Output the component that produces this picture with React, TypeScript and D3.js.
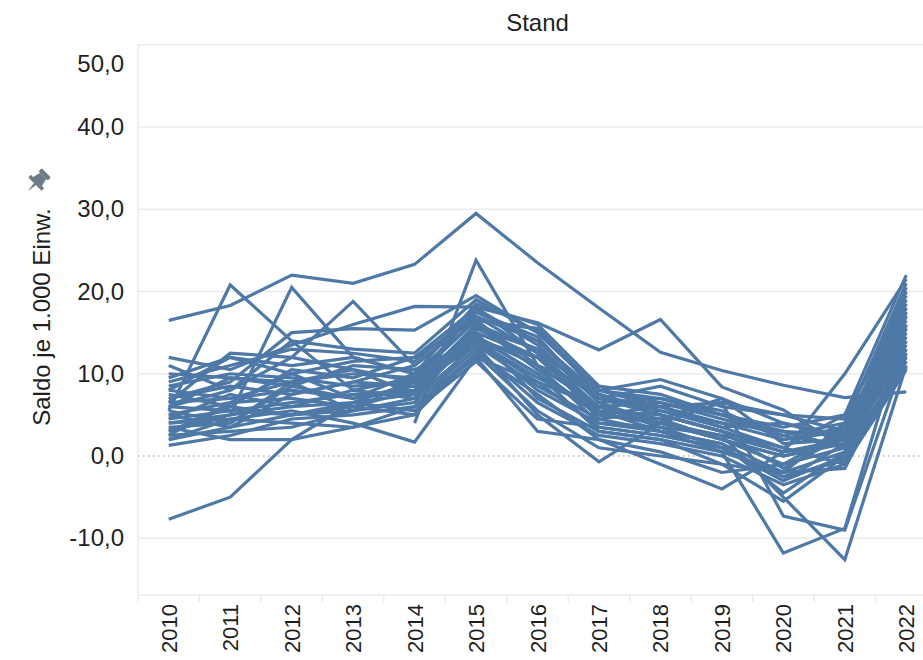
import * as d3 from "d3";

// Saldo je 1.000 Einwohner, one line per Kreis, 2010-2022
const YEARS = ["2010", "2011", "2012", "2013", "2014", "2015", "2016", "2017", "2018", "2019", "2020", "2021", "2022"];
const Y_TICKS = [-10, 0, 10, 20, 30, 40, 50];

type Row = (number | null)[];

const S01: Row = [16.5, 18.3, 22.0, 21.0, 23.3, 29.5, 23.5, 18.0, 12.6, 10.4, 8.6, 7.1, 7.8];
const S02: Row = [12.0, 10.5, 13.5, 16.0, 18.2, 18.1, 16.2, 12.9, 16.6, 8.4, 5.6, 1.0, 15.5];
const S03: Row = [-7.7, -5.0, 2.0, 6.5, 9.0, 14.0, 8.0, 4.0, 3.0, 1.5, -2.0, 0.5, 12.0];
const S04: Row = [5.5, 20.8, 14.0, 8.0, 9.5, 15.0, 12.0, 5.5, 5.0, 3.0, 0.5, 2.0, 14.5];
const S05: Row = [3.0, 5.0, 20.5, 12.0, 10.0, 16.5, 11.0, 6.0, 4.5, 2.0, -1.0, 1.0, 13.0];
const S06: Row = [6.0, 8.0, 12.0, 18.8, 11.0, 17.0, 14.0, 7.0, 6.0, 4.0, 2.0, 3.0, 18.0];
const S07: Row = [null, null, null, null, 4.0, 23.8, 11.0, 8.0, 7.0, 5.0, 3.0, 2.5, 17.0];
const S08: Row = [4.0, 4.5, 5.5, 4.0, 1.7, 12.0, 9.0, 3.5, 2.5, 1.0, -3.0, 0.0, 11.5];
const S09: Row = [7.0, 9.0, 15.0, 15.5, 15.3, 19.5, 15.0, 8.0, 9.3, 7.0, 4.0, 2.0, 20.0];
const S10: Row = [2.0, 3.5, 5.0, 6.5, 7.5, 14.5, 10.0, 5.0, 4.0, 2.5, -5.0, -12.6, 11.0];
const S11: Row = [5.0, 6.5, 7.0, 6.0, 8.0, 16.0, 13.0, 5.5, 3.0, 0.5, -11.8, -8.8, 16.0];
const S12: Row = [8.0, 7.0, 9.0, 10.0, 9.5, 17.5, 14.5, 6.5, 4.0, 6.5, -7.3, -9.0, 12.5];
const S13: Row = [3.5, 4.0, 8.5, 7.0, 8.5, 13.5, 5.0, -0.7, 4.0, 2.0, 0.0, 1.5, 14.0];
const S14: Row = [1.3, 2.5, 4.5, 5.0, 6.0, 12.0, 3.0, 2.0, -1.0, -4.0, 0.5, 10.0, 21.5];
const S15: Row = [9.5, 12.0, 11.0, 12.0, 10.0, 18.5, 16.0, 8.5, 7.5, 5.0, 3.5, 5.0, 22.0];
const S16: Row = [6.5, 12.5, 12.0, 10.5, 9.0, 15.5, 13.0, 7.0, 8.5, 6.0, 5.0, 3.0, 19.0];
const S17: Row = [4.5, 7.5, 6.0, 8.0, 7.0, 15.0, 7.0, 3.0, 2.0, -1.0, -2.0, 4.0, 16.5];
const S18: Row = [5.0, 3.5, 7.5, 9.0, 11.0, 17.0, 12.5, 4.5, 5.5, 3.5, 1.0, -1.0, 17.5];
const S19: Row = [10.0, 9.5, 8.5, 11.0, 10.5, 14.0, 9.5, 6.0, 6.5, 4.5, 2.5, 1.0, 13.5];
const S20: Row = [7.5, 6.0, 10.5, 9.5, 12.0, 16.5, 15.5, 7.5, 5.0, 3.0, -1.5, 2.5, 15.0];
const S21: Row = [2.5, 3.0, 3.5, 5.5, 6.5, 13.0, 6.5, 2.5, 1.5, 0.0, -3.5, -1.0, 10.5];
const S22: Row = [6.0, 5.5, 6.5, 7.5, 8.0, 14.5, 11.0, 4.0, 3.5, 2.5, 0.5, 1.5, 12.5];
const S23: Row = [8.5, 10.0, 9.5, 8.5, 9.0, 18.0, 13.5, 6.5, 7.0, 5.5, 2.0, 3.5, 18.5];
const S24: Row = [4.0, 5.0, 6.0, 6.5, 5.5, 11.5, 4.5, 3.5, 2.5, 1.0, -2.5, -0.5, 11.5];
const S25: Row = [7.0, 8.5, 7.5, 9.0, 8.5, 16.0, 10.5, 5.0, 4.5, 7.0, 1.5, 2.0, 20.5];
const S26: Row = [3.0, 6.0, 5.0, 5.5, 7.0, 13.5, 8.5, 4.5, 3.0, 1.5, -4.5, 0.5, 14.0];
const S27: Row = [5.5, 4.0, 9.0, 10.5, 7.5, 15.5, 12.0, 5.0, 6.0, 3.5, 4.0, 2.5, 16.0];
const S28: Row = [9.0, 11.0, 13.0, 12.5, 11.5, 17.5, 14.0, 7.5, 5.5, 4.0, 3.0, 1.0, 17.0];
const S29: Row = [2.0, 4.5, 4.0, 3.5, 6.0, 12.5, 7.5, 2.0, 0.5, -2.0, -1.0, 3.0, 12.0];
const S30: Row = [6.5, 7.0, 8.0, 7.0, 10.0, 14.0, 9.0, 6.0, 4.0, 2.0, 0.0, 2.0, 15.5];
const S31: Row = [11.0, 8.0, 14.0, 13.0, 12.5, 19.0, 15.0, 8.0, 6.0, 6.5, 5.0, 4.5, 19.5];
const S32: Row = [4.5, 5.5, 5.0, 6.0, 5.0, 14.5, 10.0, 3.0, 2.0, 0.5, -2.0, -1.5, 13.0];
const S33: Row = [3.5, 2.0, 2.0, 3.5, 5.0, 12.5, 5.5, 1.0, 0.0, -1.0, -5.5, 0.0, 10.8];
const S34: Row = [8.0, 12.0, 10.0, 7.0, 8.0, 14.0, 12.0, 7.0, 5.0, 3.0, 1.0, 5.0, 18.0];
const S35: Row = [6.0, 9.5, 9.0, 5.5, 9.5, 16.5, 15.5, 8.0, 6.5, 5.0, 2.5, 4.0, 21.0];
const S36: Row = [2.5, 6.5, 10.0, 11.5, 12.0, 18.0, 12.5, 6.0, 3.5, 1.0, -3.0, 1.5, 17.5];

const SERIES: Row[] = [
  S01, S02, S03, S04, S05, S06, S07, S08, S09, S10, S11, S12, S13, S14, S15, S16, S17, S18,
  S19, S20, S21, S22, S23, S24, S25, S26, S27, S28, S29, S30, S31, S32, S33, S34, S35, S36,
];

const W = 923;
const H = 660;
const LEFT = 138;
const RIGHT = 937; // plot runs past the window edge, as in the original crop
const TOP = 44;
const BOTTOM = 595;

const FONT = "'Liberation Sans', Arial, sans-serif";
const LINE_COLOR = "#4e79a7";
const GRID = "#ebebeb";
const fmt = (v: number) => d3.format(".1f")(v).replace(".", ",").replace("\u2212", "-");

export default function App() {
  const x = d3.scaleBand<string>().domain(YEARS).range([LEFT, RIGHT]);
  const y = d3.scaleLinear().domain([-16.9, 50.1]).range([BOTTOM, TOP]);
  const cx = (yr: string) => (x(yr) ?? 0) + x.bandwidth() / 2;

  const line = d3
    .line<number | null>()
    .defined((d) => d != null)
    .x((_, i) => cx(YEARS[i]))
    .y((d) => y(d as number));

  return (
    <svg
      width={W}
      height={H}
      style={{ position: "absolute", left: 0, top: 0, background: "#fff" }}
      fontFamily={FONT}
    >
      <defs>
        <clipPath id="plot">
          <rect x={LEFT} y={TOP} width={W - LEFT} height={BOTTOM - TOP} />
        </clipPath>
      </defs>

      {/* title */}
      <text x={(LEFT + RIGHT) / 2} y={31} textAnchor="middle" fontSize={24} fill="#1f1f1f">
        Stand
      </text>

      {/* gridlines */}
      {Y_TICKS.filter((t) => t !== 0).map((t) => (
        <line key={t} x1={LEFT} x2={W} y1={y(t)} y2={y(t)} stroke={GRID} strokeWidth={1.5} />
      ))}
      <line x1={LEFT} x2={W} y1={y(0)} y2={y(0)} stroke="#b4b4b4" strokeWidth={1.3} strokeDasharray="1.5,3.5" />

      {/* axis frame */}
      <line x1={LEFT} x2={LEFT} y1={TOP} y2={BOTTOM + 7} stroke={GRID} strokeWidth={1.5} />
      <line x1={LEFT} x2={W} y1={BOTTOM} y2={BOTTOM} stroke={GRID} strokeWidth={1.5} />
      {YEARS.map((yr) => (
        <line
          key={yr}
          x1={(x(yr) ?? 0) + x.bandwidth()}
          x2={(x(yr) ?? 0) + x.bandwidth()}
          y1={BOTTOM}
          y2={BOTTOM + 7}
          stroke={GRID}
          strokeWidth={1.5}
        />
      ))}

      {/* y tick labels */}
      {Y_TICKS.map((t) => (
        <text
          key={t}
          x={124}
          y={t === 50 ? y(t) + 27 : y(t) + 8}
          textAnchor="end"
          fontSize={24}
          fill="#1f1f1f"
        >
          {fmt(t)}
        </text>
      ))}

      {/* x tick labels */}
      {YEARS.map((yr) => (
        <text
          key={yr}
          transform={`translate(${cx(yr) + 8},${BOTTOM + 9}) rotate(-90)`}
          textAnchor="end"
          fontSize={22}
          fill="#1f1f1f"
        >
          {yr}
        </text>
      ))}

      {/* y axis title + pin */}
      <text transform="translate(50,317) rotate(-90)" textAnchor="middle" fontSize={24} fill="#1f1f1f">
        Saldo je 1.000 Einw.
      </text>
      <g transform="translate(37,182) rotate(45) scale(1.45)" fill="#6f7b88">
        <rect x={-4.5} y={-9} width={9} height={3} rx={0.8} />
        <path d="M-3,-6 L3,-6 L4.5,0 L-4.5,0 Z" />
        <rect x={-6.5} y={-0.5} width={13} height={2.5} />
        <path d="M-1,2 L1,2 L0,9 Z" />
      </g>

      {/* lines */}
      <g clipPath="url(#plot)">
        {SERIES.map((s, i) => (
          <path
            key={i}
            d={line(s) ?? ""}
            fill="none"
            stroke={LINE_COLOR}
            strokeWidth={3.2}
            strokeLinejoin="miter"
          />
        ))}
      </g>
    </svg>
  );
}
